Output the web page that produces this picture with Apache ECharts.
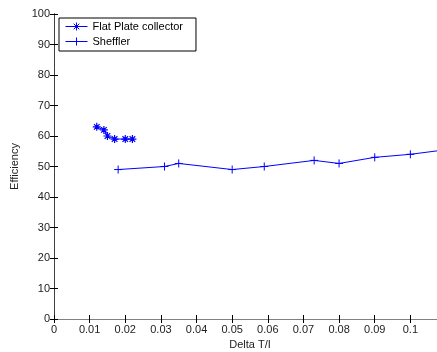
<!DOCTYPE html>
<html>
<head>
<meta charset="utf-8">
<script src="https://cdn.jsdelivr.net/npm/echarts@6/dist/echarts.min.js"></script>
<style>
  html, body { margin: 0; padding: 0; background: #fff; }
  #chart { width: 437px; height: 352px; }
</style>
</head>
<body>
<div id="chart"></div>
<script>
// data
const flatX = [0.012, 0.014, 0.015, 0.017, 0.020, 0.022];
const flatY = [63, 62, 60, 59, 59, 59];
const shefX = [0.018, 0.031, 0.035, 0.050, 0.059, 0.073, 0.080, 0.090, 0.100, 0.110];
const shefY = [49, 50, 51, 49, 50, 52, 51, 53, 54, 55.5];
const seriesNames = ['Flat Plate collector', 'Sheffler'];

const FONT = 'Liberation Sans, Arial, sans-serif';
const BLUE = '#0000ff';

// marker shapes, drawn as strokes
const STAR = 'path://M4,0L4,8M0,4L8,4M1.2,1.2L6.8,6.8M1.2,6.8L6.8,1.2';
const PLUS = 'path://M4,0L4,8M0,4L8,4';

const zip = (xs, ys) => xs.map((x, i) => [x, ys[i]]);

const chart = echarts.init(document.getElementById('chart'));

const axisBits = lineColor => ({
  axisLine: { show: true, lineStyle: { color: lineColor, width: 1 } },
  axisTick: { show: true, inside: true, length: 4, lineStyle: { color: '#000' } },
  splitLine: { show: false },
});

chart.setOption({
  animation: false,
  backgroundColor: '#fff',
  textStyle: { fontFamily: FONT },
  // plot runs past the right edge of the picture, as in the original
  grid: { left: 54, top: 14, width: 392, height: 305, outerBoundsMode: 'none', containLabel: false },
  legend: {
    orient: 'vertical',
    left: 59,
    top: 18,
    padding: [3, 13, 4, 6],
    itemGap: 4,
    itemWidth: 22,
    itemHeight: 10,
    borderColor: '#000',
    borderWidth: 1,
    backgroundColor: '#fff',
    lineStyle: { width: 1 },
    itemStyle: { borderWidth: 1 },
    textStyle: { fontSize: 11, color: '#000', fontFamily: FONT },
    data: seriesNames,
  },
  xAxis: [
    Object.assign(axisBits('#808080'), {
      type: 'value',
      min: 0,
      max: 0.11,
      interval: 0.01,
      name: 'Delta T/I',
      nameLocation: 'middle',
      nameGap: 19,
      nameTextStyle: { fontSize: 11, color: '#222', fontFamily: FONT },
      axisLabel: {
        fontSize: 11, color: '#222', margin: 5, fontFamily: FONT,
        formatter: v => (v > 0.105 ? '' : String(parseFloat(v.toFixed(2)))),
      },
    }),
    Object.assign(axisBits('#808080'), {
      type: 'value',
      position: 'top',
      min: 0,
      max: 0.11,
      interval: 0.01,
      axisLabel: { show: false },
    }),
  ],
  yAxis: [
    Object.assign(axisBits('#404040'), {
      type: 'value',
      min: 0,
      max: 100,
      interval: 10,
      name: 'Efficiency',
      nameLocation: 'middle',
      nameGap: 32,
      nameTextStyle: { fontSize: 11, color: '#222', fontFamily: FONT },
      axisLabel: { fontSize: 11, color: '#222', margin: 4, fontFamily: FONT },
    }),
    Object.assign(axisBits('#404040'), {
      type: 'value',
      position: 'right',
      min: 0,
      max: 100,
      interval: 10,
      axisLabel: { show: false },
    }),
  ],
  series: [
    {
      name: seriesNames[0],
      type: 'line',
      data: zip(flatX, flatY),
      symbol: STAR,
      symbolSize: 8,
      showAllSymbol: true,
      lineStyle: { color: BLUE, width: 1 },
      itemStyle: { color: 'rgba(0,0,0,0)', borderColor: BLUE, borderWidth: 1.2 },
    },
    {
      name: seriesNames[1],
      type: 'line',
      data: zip(shefX, shefY),
      symbol: PLUS,
      symbolSize: 8,
      showAllSymbol: true,
      lineStyle: { color: BLUE, width: 1 },
      itemStyle: { color: 'rgba(0,0,0,0)', borderColor: BLUE, borderWidth: 1 },
    },
  ],
});
</script>
</body>
</html>
